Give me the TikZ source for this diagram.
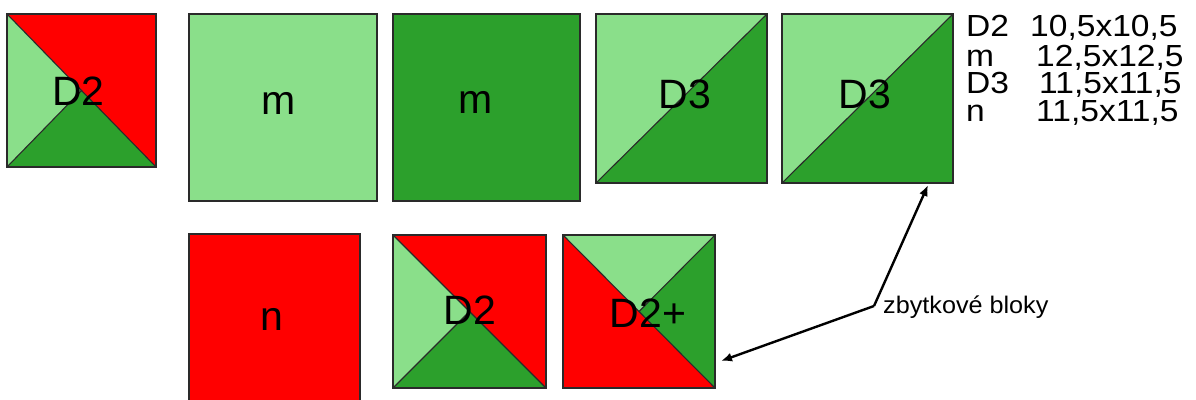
\documentclass[tikz,border=0pt]{standalone}
\usepackage{fontspec}
\setmainfont{Liberation Sans}
\usetikzlibrary{arrows.meta}
\definecolor{lg}{HTML}{8ADF8A}
\definecolor{dg}{HTML}{2CA02C}
\definecolor{rd}{HTML}{FF0000}
\definecolor{bd}{HTML}{2A2A2A}
\begin{document}
\begin{tikzpicture}[x=1pt,y=-1pt,
  blk/.style n args={2}{draw=none,inner sep=0pt,outer sep=0pt,minimum width=#1pt,minimum height=#2pt},
  edge/.style={draw=bd,line width=1.3pt},
  diag/.style={draw=bd,line width=1.1pt},
  lbl/.style={anchor=base,inner sep=0pt,font=\fontsize{41}{48}\selectfont},
  side/.style={anchor=base west,inner sep=0pt},
  conn/.style={draw=black,line width=2.4pt,-{Latex[length=11pt,width=9pt]}}]
\path[use as bounding box] (0,0) rectangle (1196,399);
\clip (0,0) rectangle (1196,399);
\fill[white] (0,0) rectangle (1196,399);
% nodes for squares
\node[blk={149}{153}] (d2a) at (81.5,90.5) {};
\node[blk={188}{187}] (m1) at (283,107.5) {};
\node[blk={187}{187}] (m2) at (486.5,107.5) {};
\node[blk={171}{169}] (d3a) at (681.5,98.5) {};
\node[blk={171}{169}] (d3b) at (867.5,98.5) {};
\node[blk={171}{171}] (n) at (274.5,319.5) {};
\node[blk={153}{153}] (d2b) at (469.5,311.5) {};
\node[blk={152}{153}] (d2p) at (639,311.5) {};
% D2 (top left) and D2 (bottom)
\foreach \s in {d2a,d2b}{
  \fill[rd] (\s.north west) -- (\s.north east) -- (\s.south east) -- cycle;
  \fill[lg] (\s.north west) -- (\s.center) -- (\s.south west) -- cycle;
  \fill[dg] (\s.south west) -- (\s.center) -- (\s.south east) -- cycle;
  \draw[diag] (\s.north west) -- (\s.south east) (\s.south west) -- (\s.center);
  \draw[edge] (\s.north west) rectangle (\s.south east);
}
% m squares
\fill[lg] (m1.north west) rectangle (m1.south east);
\draw[edge] (m1.north west) rectangle (m1.south east);
\fill[dg] (m2.north west) rectangle (m2.south east);
\draw[edge] (m2.north west) rectangle (m2.south east);
% D3 squares
\foreach \s in {d3a,d3b}{
  \fill[lg] (\s.north west) -- (\s.north east) -- (\s.south west) -- cycle;
  \fill[dg] (\s.north east) -- (\s.south east) -- (\s.south west) -- cycle;
  \draw[diag] (\s.south west) -- (\s.north east);
  \draw[edge] (\s.north west) rectangle (\s.south east);
}
% n square
\fill[rd] (n.north west) rectangle (n.south east);
\draw[edge] (n.north west) rectangle (n.south east);
% D2+ square
\fill[rd] (d2p.north west) -- (d2p.south west) -- (d2p.south east) -- cycle;
\fill[lg] (d2p.north west) -- (d2p.north east) -- (d2p.center) -- cycle;
\fill[dg] (d2p.north east) -- (d2p.south east) -- (d2p.center) -- cycle;
\draw[diag] (d2p.north west) -- (d2p.south east) (d2p.north east) -- (d2p.center);
\draw[edge] (d2p.north west) rectangle (d2p.south east);
% labels
\node[lbl] (d2aL) at (78.5,105) {D2};
\node[lbl] (m1L) at (278.5,114) {m};
\node[lbl] (m2L) at (476,113.5) {m};
\node[lbl] (d3aL) at (685,108) {D3};
\node[lbl] (d3bL) at (865,108) {D3};
\node[lbl] (nL) at (271.5,330) {n};
\node[lbl] (d2bL) at (470,324) {D2};
\node[lbl] (d2pL) at (648,327) {D2+};
% side table
\tikzset{tab/.style={side,font=\fontsize{30.5}{36}\selectfont}}
\node[tab] (t1a) at (966,36) {\scalebox{1.1}[1]{D2}};
\node[tab] (t1b) at (1030,36) {\scalebox{1.1}[1]{10,5x10,5}};
\node[tab] (t2a) at (966,66) {\scalebox{1.1}[1]{m}};
\node[tab] (t2b) at (1036,66) {\scalebox{1.1}[1]{12,5x12,5}};
\node[tab] (t3a) at (966,93.5) {\scalebox{1.1}[1]{D3}};
\node[tab] (t3b) at (1039,93.5) {\scalebox{1.1}[1]{11,5x11,5}};
\node[tab] (t4a) at (966,121.5) {\scalebox{1.1}[1]{n}};
\node[tab] (t4b) at (1036,121.5) {\scalebox{1.1}[1]{11,5x11,5}};
% callout
\node[side,font=\fontsize{24}{28}\selectfont] (zb) at (883,313) {\scalebox{1.05}[1]{zbytkové bloky}};
\coordinate (j) at (874,306);
\coordinate (e1) at (928,185);
\coordinate (e2) at (721,361);
\draw[conn] (j) -- (e1);
\draw[conn] (j) -- (e2);
\end{tikzpicture}
\end{document}
